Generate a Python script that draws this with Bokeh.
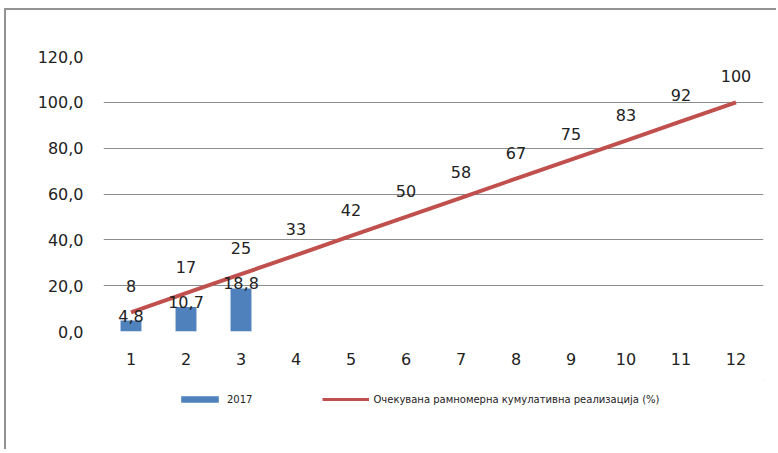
from bokeh.plotting import figure
from bokeh.layouts import column
from bokeh.models import ColumnDataSource, FixedTicker, Legend, LegendItem
from bokeh.embed import file_html
from bokeh.resources import INLINE
from bokeh.core.properties import value

# ---- data ----
months = [1, 2, 3, 4, 5, 6, 7, 8, 9, 10, 11, 12]
expected = [8.3, 16.7, 25.0, 33.3, 41.7, 50.0, 58.3, 66.7, 75.0, 83.3, 91.7, 100.0]
expected_labels = ["8", "17", "25", "33", "42", "50", "58", "67", "75", "83", "92", "100"]
bar_months = [1, 2, 3]
actual_2017 = [4.8, 10.7, 18.8]
actual_labels = ["4,8", "10,7", "18,8"]
y_ticks = [0, 20, 40, 60, 80, 100, 120]
y_tick_labels = ["0,0", "20,0", "40,0", "60,0", "80,0", "100,0", "120,0"]
series_bar = "2017"
series_line = "Очекувана рамномерна кумулативна реализација (%)"

FONT = "DejaVu Sans"
TXT = "#222222"
BLUE = "#4F81BD"
RED = "#C0504D"
FS = "16px"

p = figure(width=770, height=369, output_backend="svg", toolbar_location=None,
           x_range=(0.5, 12.5), y_range=(0, 120),
           min_border_left=97, min_border_right=13, min_border_top=46, min_border_bottom=48)
p.outline_line_color = None
p.background_fill_color = "white"
p.border_fill_color = "white"

# axes
p.xaxis.ticker = FixedTicker(ticks=months)
p.xaxis.major_label_overrides = {m: str(m) for m in months}
p.yaxis.ticker = FixedTicker(ticks=y_ticks)
p.yaxis.major_label_overrides = {t: l for t, l in zip(y_ticks, y_tick_labels)}
for ax in (p.xaxis, p.yaxis):
    ax.axis_line_color = None
    ax.major_tick_line_color = None
    ax.minor_tick_line_color = None
    ax.major_tick_out = 0
    ax.major_tick_in = 0
    ax.major_label_text_font = FONT
    ax.major_label_text_font_size = FS
    ax.major_label_text_color = TXT
p.yaxis.major_label_standoff = 20
p.xaxis.major_label_standoff = 21
p.xgrid.grid_line_color = None
p.ygrid.grid_line_color = "#8c8c8c"
p.ygrid.grid_line_width = 1

bar_src = ColumnDataSource(dict(x=bar_months, top=actual_2017, lab=actual_labels))
line_src = ColumnDataSource(dict(x=months, y=expected, lab=expected_labels))

p.vbar(x="x", top="top", width=0.38, source=bar_src, fill_color=BLUE, line_color=None)
p.line(x="x", y="y", source=line_src, line_color=RED, line_width=4)

p.text(x="x", y="top", text="lab", source=bar_src, text_align="center", text_baseline="middle",
       y_offset=-5, text_font=value(FONT), text_font_size=FS, text_color=TXT)
p.text(x="x", y="y", text="lab", source=line_src, text_align="center", text_baseline="middle",
       y_offset=-26, text_font=value(FONT), text_font_size=FS, text_color=TXT)

# legend strip below the chart (same sources, drawn out of view; only the legend shows)
lg = figure(width=770, height=70, output_backend="svg", toolbar_location=None,
            x_range=(-20, -19), y_range=(-20, -19), min_border=0)
lg.axis.visible = False
lg.grid.visible = False
lg.outline_line_color = None
lg_bar = lg.vbar(x="x", top="top", width=0.4, source=bar_src, fill_color=BLUE, line_color=None)
lg_line = lg.line(x="x", y="y", source=line_src, line_color=RED, line_width=3)

legend = Legend(items=[LegendItem(label=series_bar, renderers=[lg_bar]),
                       LegendItem(label=series_line, renderers=[lg_line])],
                location=(73, 44), orientation="horizontal")
legend.border_line_color = None
legend.background_fill_alpha = 0
legend.padding = 0
legend.margin = 0
legend.spacing = 70
legend.glyph_width = 47
legend.glyph_height = 8
legend.label_height = 12
legend.label_standoff = 4
legend.label_text_font = FONT
legend.label_text_font_size = "10px"
legend.label_text_color = TXT
lg.add_layout(legend)

layout = column(p, lg, spacing=0)
layout.styles = {"margin-left": "4px", "margin-top": "8px",
                 "border-left": "2px solid #939393", "border-top": "2px solid #939393"}
open("out.html", "w").write(file_html(layout, INLINE))
